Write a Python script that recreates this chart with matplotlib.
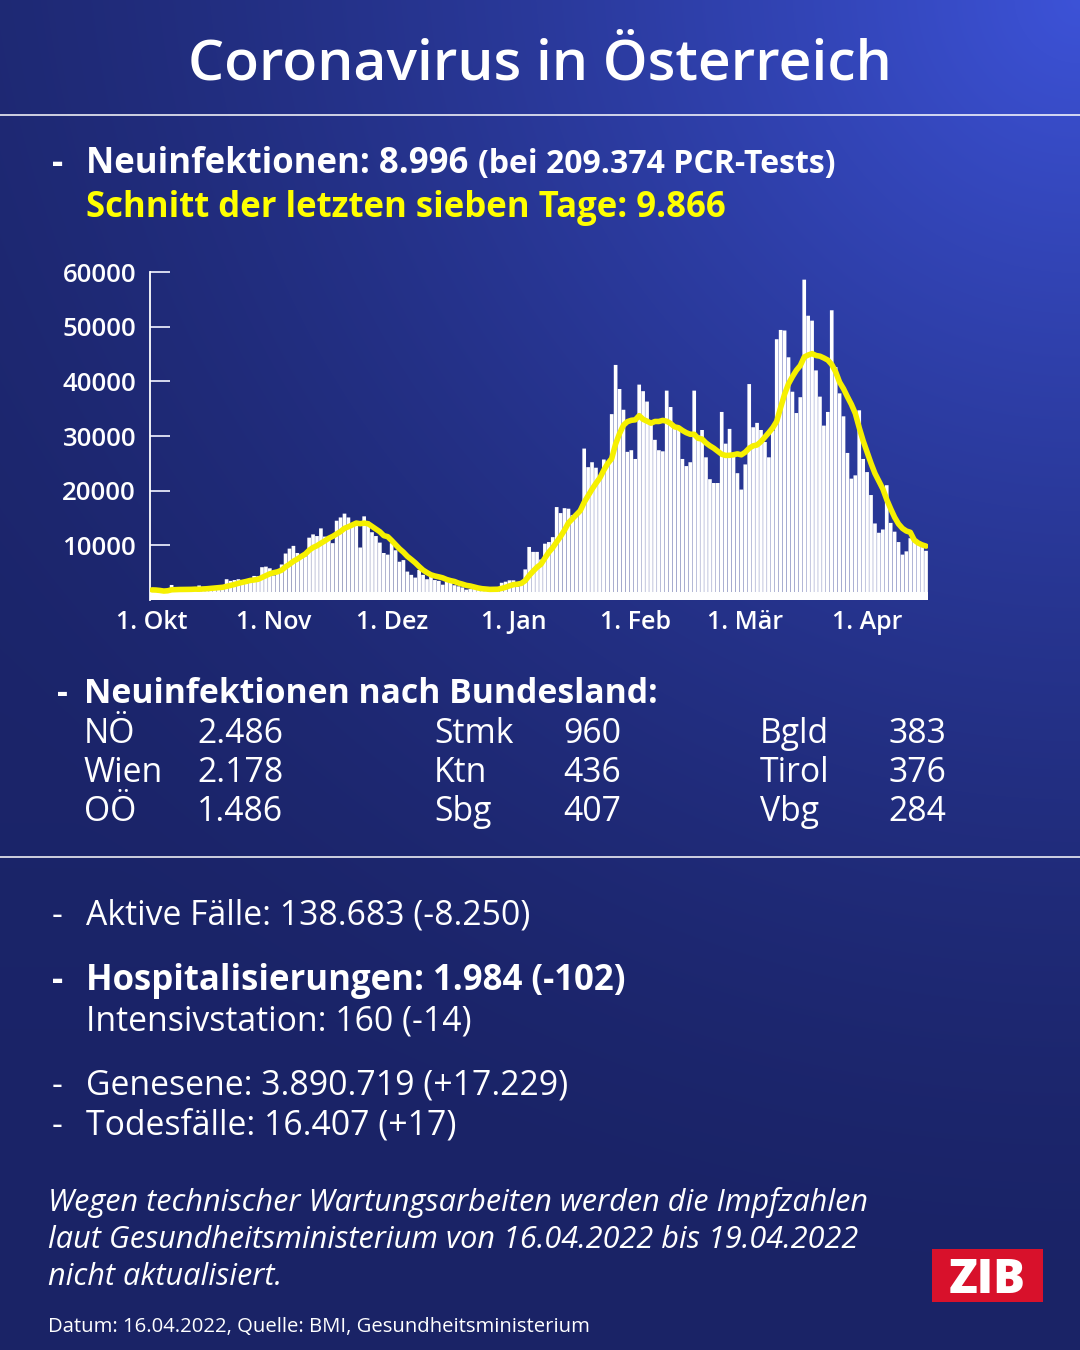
import numpy as np
import pandas as pd
import matplotlib
matplotlib.use('Agg')
import matplotlib.pyplot as plt
from matplotlib.lines import Line2D
from matplotlib.patches import Rectangle

W, H = 1080, 1350

# Neuinfektionen pro Tag, 1.10.2021 - 16.4.2022
okt = [1850, 1800, 1600, 1300, 1900, 2750, 2100, 2000, 1850, 1600,
       1450, 2150, 2650, 2400, 2350, 2300, 2100, 1900, 2600, 3800,
       3500, 3650, 3800, 3400, 3000, 3900, 4400, 4350, 6000, 6100, 5800]
nov = [4500, 5000, 6500, 8500, 9400, 9900, 8600, 7900, 8000, 11400,
       12000, 11700, 13100, 11600, 11300, 10400, 14500, 15100, 15800, 15100,
       14000, 13600, 9600, 15300, 14300, 12400, 11700, 10500, 8600, 8300]
dez = [10400, 9100, 7000, 7300, 5200, 4600, 4100, 5500, 4600, 3800,
       4500, 3650, 3500, 2800, 3400, 3150, 2700, 2500, 2300, 1900,
       2000, 2100, 1900, 1800, 2000, 1900, 2000, 2100, 3150, 3350, 3600]
jan = [3600, 2450, 3050, 5600, 9700, 8800, 8800, 7400, 10300, 10600,
       11500, 17000, 15900, 16800, 16700, 15500, 15800, 16700, 27700, 24300,
       25200, 24200, 22500, 25700, 25200, 34000, 43000, 38600, 34800, 27100, 27400]
feb = [25800, 39400, 38200, 36300, 32200, 29300, 27400, 27200, 38300, 35300,
       32000, 31100, 25800, 24500, 25200, 38300, 30100, 31100, 26100, 22100,
       21400, 21400, 34400, 28600, 31300, 26800, 23200, 20200]
mar = [24800, 39500, 31600, 32400, 31100, 28900, 26100, 31000, 47700, 49400,
       49300, 44400, 38100, 34200, 37100, 58600, 52000, 51100, 42000, 37200,
       31900, 34400, 53000, 42600, 37800, 33600, 26900, 22200, 22800, 34700, 25800]
apr = [23400, 19200, 14000, 12300, 12900, 21000, 14100, 12500, 10600, 8300,
       8900, 11300, 11100, 10300, 10100, 8996]

faelle = okt + nov + dez + jan + feb + mar + apr
schnitt = pd.Series(faelle).rolling(7, min_periods=1).mean()

monat_pos = [0, 31, 61, 92, 123, 151, 182]
monat_txt = ['1. Okt', '1. Nov', '1. Dez', '1. Jan', '1. Feb', '1. Mär', '1. Apr']
y_ticks = [10000, 20000, 30000, 40000, 50000, 60000]

bl_namen = [['NÖ', 'Wien', 'OÖ'], ['Stmk', 'Ktn', 'Sbg'], ['Bgld', 'Tirol', 'Vbg']]
bl_werte = [['2.486', '2.178', '1.486'], ['960', '436', '407'], ['383', '376', '284']]

GELB = '#ffff00'
plt.rcParams['font.family'] = ['Open Sans', 'DejaVu Sans']

fig = plt.figure(figsize=(W / 100, H / 100), dpi=100)

# Hintergrund: dunkelblau, rechts oben heller
yy, xx = np.mgrid[0:H, 0:W]
d = np.hypot(W - xx, yy)
w = np.clip(1 - d / 1300, 0, 1) ** 1.6 + 0.08 * (1 - yy / H)
dunkel = np.array([26, 35, 102]) / 255
hell = np.array([58, 79, 207]) / 255
bg = np.clip(dunkel + w[..., None] * (hell - dunkel), 0, 1)
ax_bg = fig.add_axes([0, 0, 1, 1], zorder=-10)
ax_bg.imshow(bg, aspect='auto', extent=[0, 1, 0, 1], origin='upper')
ax_bg.axis('off')


def put(x, y, s, **kw):
    kw.setdefault('color', 'white')
    kw.setdefault('va', 'baseline')
    return fig.text(x / W, 1 - y / H, s, **kw)


def hline(y):
    fig.add_artist(Line2D([0, 1], [1 - y / H] * 2, color='white', lw=1.1,
                          transform=fig.transFigure))


put(540, 80, 'Coronavirus in Österreich', ha='center', fontsize=41, fontweight='semibold')
hline(115)

put(52, 173, '-', fontsize=25, fontweight='bold')
put(86, 173, 'Neuinfektionen: 8.996', fontsize=25, fontweight='bold')
put(478, 173, '(bei 209.374 PCR-Tests)', fontsize=23, fontweight='bold')
put(86, 217, 'Schnitt der letzten sieben Tage: 9.866', fontsize=25, fontweight='bold', color=GELB)

# Diagramm
ax = fig.add_axes([150 / W, 1 - 600 / H, 778 / W, 328 / H])
ax.set_facecolor('none')
tage = np.arange(len(faelle))
ax.bar(tage, faelle, width=0.93, color='white', linewidth=0, snap=False, zorder=2)
ax.axhspan(0, 1400, color='white', linewidth=0, zorder=3)
ax.plot(tage, schnitt, color='#f6f000', lw=4, zorder=4,
        solid_capstyle='round', solid_joinstyle='round')
ax.set_xlim(-0.5, len(faelle) - 0.5)
ax.set_ylim(0, 60000)
for s in ['top', 'right', 'bottom']:
    ax.spines[s].set_visible(False)
ax.spines['left'].set_color('white')
ax.spines['left'].set_linewidth(1.3)
ax.set_yticks(y_ticks, [str(v) for v in y_ticks])
ax.tick_params(axis='y', direction='in', length=14.5, width=1.4, color='#d5d8ee',
               labelcolor='white', labelsize=18.5, pad=10)
ax.set_xticks(monat_pos, monat_txt)
ax.tick_params(axis='x', length=0, labelcolor='white', labelsize=18, pad=7)
for lab in ax.get_yticklabels() + ax.get_xticklabels():
    lab.set_fontweight('semibold')

# Bundeslaender
put(57, 703, '-', fontsize=24.3, fontweight='bold')
put(84, 703, 'Neuinfektionen nach Bundesland:', fontsize=24.3, fontweight='bold')
spalten = [(84, 197), (434, 563), (760, 888)]
zeilen = [743, 782, 821]
for (xn, xw), namen, werte in zip(spalten, bl_namen, bl_werte):
    for yz, n, v in zip(zeilen, namen, werte):
        put(xn, yz, n, fontsize=24.3)
        put(xw, yz, v, fontsize=24.3)
hline(857)

put(52, 925, '-', fontsize=24.3)
put(86, 925, 'Aktive Fälle: 138.683 (-8.250)', fontsize=24.3)
put(52, 990, '-', fontsize=25, fontweight='bold')
put(86, 990, 'Hospitalisierungen: 1.984 (-102)', fontsize=25, fontweight='bold')
put(86, 1030, 'Intensivstation: 160 (-14)', fontsize=24.3)
put(52, 1095, '-', fontsize=24.3)
put(86, 1095, 'Genesene: 3.890.719 (+17.229)', fontsize=24.3)
put(52, 1135, '-', fontsize=24.3)
put(86, 1135, 'Todesfälle: 16.407 (+17)', fontsize=24.3)

hinweis = ['Wegen technischer Wartungsarbeiten werden die Impfzahlen',
           'laut Gesundheitsministerium von 16.04.2022 bis 19.04.2022',
           'nicht aktualisiert.']
for i, z in enumerate(hinweis):
    put(48, 1211 + 37 * i, z, fontsize=22.1, style='italic')

put(48, 1332, 'Datum: 16.04.2022, Quelle: BMI, Gesundheitsministerium', fontsize=14.6)

# ZIB Logo
fig.add_artist(Rectangle((932 / W, 1 - 1302 / H), 111 / W, 53 / H,
                         transform=fig.transFigure, color='#d8112b', linewidth=0))
put(987.5, 1293, 'ZIB', ha='center', fontsize=34, fontweight='heavy')

fig.savefig('out.png', dpi=100)
